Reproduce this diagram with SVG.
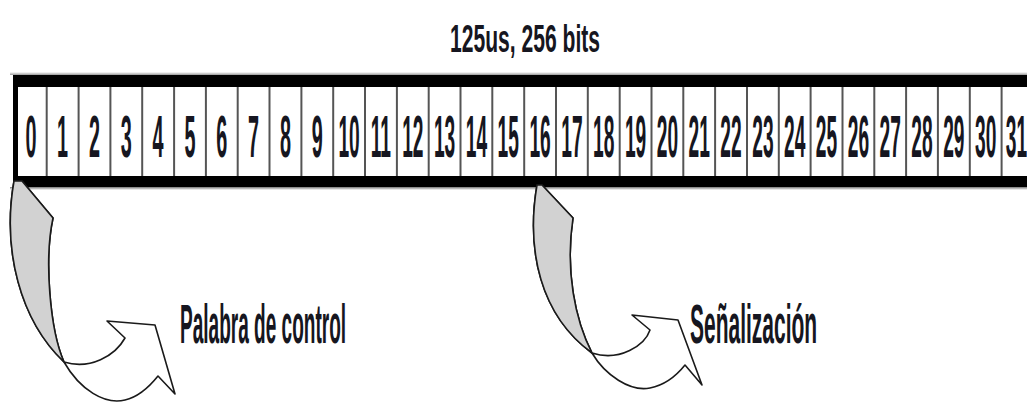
<svg xmlns="http://www.w3.org/2000/svg" width="1027" height="405" viewBox="0 0 1027 405">
<defs>
<linearGradient id="shadeTop" x1="0" y1="0" x2="0" y2="1"><stop offset="0" stop-color="#fff"/><stop offset="1" stop-color="#999"/></linearGradient>
<linearGradient id="shadeBot" x1="0" y1="0" x2="0" y2="1"><stop offset="0" stop-color="#777"/><stop offset="1" stop-color="#fff"/></linearGradient>
</defs>
<style>
.num{font-family:"Liberation Sans",Arial,sans-serif;font-weight:bold;font-size:60px;fill:#161620;text-anchor:middle}
.lbl{font-family:"Liberation Sans",Arial,sans-serif;font-weight:bold;font-size:56px;fill:#161620}
.ttl{font-family:"Liberation Sans",Arial,sans-serif;font-weight:bold;font-size:38px;fill:#161620}
.div{stroke:#555;stroke-width:2}
.arw{fill:#fff;stroke:#1a1a1a;stroke-width:1.6;stroke-linejoin:round}
.back{fill:#d2d2d2;stroke:#1a1a1a;stroke-width:1.6;stroke-linejoin:round}
</style>
<rect width="1027" height="405" fill="#fff"/>
<g id="title"><text class="ttl" transform="translate(450,52) scale(0.555,1)">125us, 256 bits</text></g>
<g id="frame">
<rect x="10" y="72" width="1020" height="3" fill="url(#shadeTop)"/>
<rect x="13" y="75" width="1020" height="12" fill="#000"/>
<rect x="13" y="176" width="1020" height="11" fill="#000"/>
<rect x="10" y="187" width="1020" height="3" fill="url(#shadeBot)"/>
<rect x="13" y="75" width="5" height="112" fill="#000"/>
<rect x="18" y="87" width="1012" height="89" fill="#fff"/>
</g>
<g id="cells">
<g id="bit-0"><text class="num" transform="translate(31,157) scale(0.33,1)">0</text></g>
<g id="bit-1"><line class="div" x1="46.7" y1="87" x2="46.7" y2="176"/><text class="num" transform="translate(62.6,157) scale(0.33,1)">1</text></g>
<g id="bit-2"><line class="div" x1="78.6" y1="87" x2="78.6" y2="176"/><text class="num" transform="translate(94.5,157) scale(0.33,1)">2</text></g>
<g id="bit-3"><line class="div" x1="110.4" y1="87" x2="110.4" y2="176"/><text class="num" transform="translate(126.3,157) scale(0.33,1)">3</text></g>
<g id="bit-4"><line class="div" x1="142.2" y1="87" x2="142.2" y2="176"/><text class="num" transform="translate(158.1,157) scale(0.33,1)">4</text></g>
<g id="bit-5"><line class="div" x1="174.1" y1="87" x2="174.1" y2="176"/><text class="num" transform="translate(190.0,157) scale(0.33,1)">5</text></g>
<g id="bit-6"><line class="div" x1="205.9" y1="87" x2="205.9" y2="176"/><text class="num" transform="translate(221.8,157) scale(0.33,1)">6</text></g>
<g id="bit-7"><line class="div" x1="237.7" y1="87" x2="237.7" y2="176"/><text class="num" transform="translate(253.6,157) scale(0.33,1)">7</text></g>
<g id="bit-8"><line class="div" x1="269.5" y1="87" x2="269.5" y2="176"/><text class="num" transform="translate(285.4,157) scale(0.33,1)">8</text></g>
<g id="bit-9"><line class="div" x1="301.4" y1="87" x2="301.4" y2="176"/><text class="num" transform="translate(317.3,157) scale(0.33,1)">9</text></g>
<g id="bit-10"><line class="div" x1="333.2" y1="87" x2="333.2" y2="176"/><text class="num" transform="translate(349.1,157) scale(0.32,1)">10</text></g>
<g id="bit-11"><line class="div" x1="365.0" y1="87" x2="365.0" y2="176"/><text class="num" transform="translate(380.9,157) scale(0.32,1)">11</text></g>
<g id="bit-12"><line class="div" x1="396.9" y1="87" x2="396.9" y2="176"/><text class="num" transform="translate(412.8,157) scale(0.32,1)">12</text></g>
<g id="bit-13"><line class="div" x1="428.7" y1="87" x2="428.7" y2="176"/><text class="num" transform="translate(444.6,157) scale(0.32,1)">13</text></g>
<g id="bit-14"><line class="div" x1="460.5" y1="87" x2="460.5" y2="176"/><text class="num" transform="translate(476.4,157) scale(0.32,1)">14</text></g>
<g id="bit-15"><line class="div" x1="492.3" y1="87" x2="492.3" y2="176"/><text class="num" transform="translate(508.2,157) scale(0.32,1)">15</text></g>
<g id="bit-16"><line class="div" x1="524.2" y1="87" x2="524.2" y2="176"/><text class="num" transform="translate(540.1,157) scale(0.32,1)">16</text></g>
<g id="bit-17"><line class="div" x1="556.0" y1="87" x2="556.0" y2="176"/><text class="num" transform="translate(571.9,157) scale(0.32,1)">17</text></g>
<g id="bit-18"><line class="div" x1="587.8" y1="87" x2="587.8" y2="176"/><text class="num" transform="translate(603.7,157) scale(0.32,1)">18</text></g>
<g id="bit-19"><line class="div" x1="619.7" y1="87" x2="619.7" y2="176"/><text class="num" transform="translate(635.6,157) scale(0.32,1)">19</text></g>
<g id="bit-20"><line class="div" x1="651.5" y1="87" x2="651.5" y2="176"/><text class="num" transform="translate(667.4,157) scale(0.32,1)">20</text></g>
<g id="bit-21"><line class="div" x1="683.3" y1="87" x2="683.3" y2="176"/><text class="num" transform="translate(699.2,157) scale(0.32,1)">21</text></g>
<g id="bit-22"><line class="div" x1="715.1" y1="87" x2="715.1" y2="176"/><text class="num" transform="translate(731.0,157) scale(0.32,1)">22</text></g>
<g id="bit-23"><line class="div" x1="747.0" y1="87" x2="747.0" y2="176"/><text class="num" transform="translate(762.9,157) scale(0.32,1)">23</text></g>
<g id="bit-24"><line class="div" x1="778.8" y1="87" x2="778.8" y2="176"/><text class="num" transform="translate(794.7,157) scale(0.32,1)">24</text></g>
<g id="bit-25"><line class="div" x1="810.6" y1="87" x2="810.6" y2="176"/><text class="num" transform="translate(826.5,157) scale(0.32,1)">25</text></g>
<g id="bit-26"><line class="div" x1="842.5" y1="87" x2="842.5" y2="176"/><text class="num" transform="translate(858.4,157) scale(0.32,1)">26</text></g>
<g id="bit-27"><line class="div" x1="874.3" y1="87" x2="874.3" y2="176"/><text class="num" transform="translate(890.2,157) scale(0.32,1)">27</text></g>
<g id="bit-28"><line class="div" x1="906.1" y1="87" x2="906.1" y2="176"/><text class="num" transform="translate(922.0,157) scale(0.32,1)">28</text></g>
<g id="bit-29"><line class="div" x1="937.9" y1="87" x2="937.9" y2="176"/><text class="num" transform="translate(953.8,157) scale(0.32,1)">29</text></g>
<g id="bit-30"><line class="div" x1="969.8" y1="87" x2="969.8" y2="176"/><text class="num" transform="translate(985.7,157) scale(0.32,1)">30</text></g>
<g id="bit-31"><line class="div" x1="1001.6" y1="87" x2="1001.6" y2="176"/><text class="num" transform="translate(1016.5,157) scale(0.32,1)">31</text></g>
</g>
<g id="connectors">
<g id="arrow-control">
<path class="arw" d="M14,181 C2,250 20,320 64,362 C80,390 105,405 125,400 C138,397 150,386 158,376 L175,394 L155,325 L107,321 L125,338 C115,356 90,370 64,362 C50,330 44,260 53,218 L22,181 Z"/>
<path class="back" d="M14,181 C2,250 20,320 64,362 C50,330 44,260 53,218 L22,181 Z"/>
</g>
<g id="arrow-senal">
<path class="arw" d="M537,185 C526,250 540,315 592,353 C605,375 630,392 650,388 C665,385 677,375 685,365 L702,385 L678,320 L632,315 L650,330 C645,345 620,362 592,353 C575,320 565,270 573,218 L542,185 Z"/>
<path class="back" d="M537,185 C526,250 540,315 592,353 C575,320 565,270 573,218 L542,185 Z"/>
</g>
</g>
<g id="label-control"><text class="lbl" transform="translate(180,343) scale(0.34,1)">Palabra de control</text></g>
<g id="label-senal"><text class="lbl" transform="translate(690,343) scale(0.375,1)">Señalización</text></g>
</svg>
